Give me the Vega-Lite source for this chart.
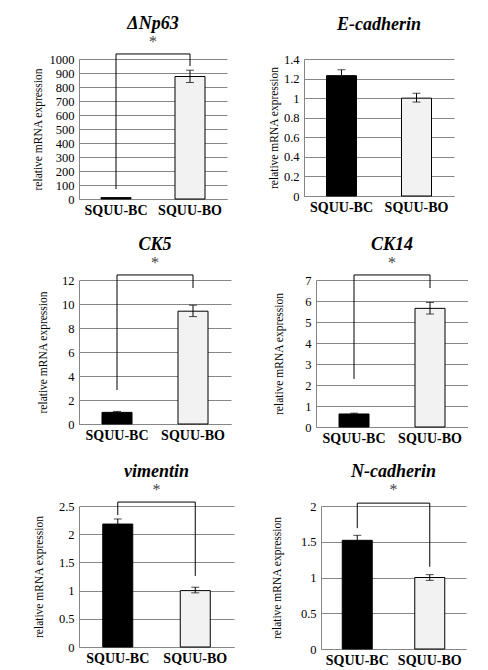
{
  "$schema": "https://vega.github.io/schema/vega-lite/v6.json",
  "padding": {"left": 31, "top": 14, "right": 0, "bottom": 0},
  "background": "white",
  "datasets": {
    "bars": [
      {"gene": "ΔNp63", "group": "SQUU-BC", "mean": 10, "lo": 6, "hi": 14},
      {"gene": "ΔNp63", "group": "SQUU-BO", "mean": 875, "lo": 832, "hi": 920},
      {"gene": "E-cadherin", "group": "SQUU-BC", "mean": 1.23, "lo": 1.17, "hi": 1.29},
      {"gene": "E-cadherin", "group": "SQUU-BO", "mean": 1.0, "lo": 0.96, "hi": 1.05},
      {"gene": "CK5", "group": "SQUU-BC", "mean": 0.97, "lo": 0.9, "hi": 1.05},
      {"gene": "CK5", "group": "SQUU-BO", "mean": 9.4, "lo": 8.95, "hi": 9.9},
      {"gene": "CK14", "group": "SQUU-BC", "mean": 0.62, "lo": 0.58, "hi": 0.66},
      {"gene": "CK14", "group": "SQUU-BO", "mean": 5.65, "lo": 5.38, "hi": 5.93},
      {"gene": "vimentin", "group": "SQUU-BC", "mean": 2.18, "lo": 2.1, "hi": 2.27},
      {"gene": "vimentin", "group": "SQUU-BO", "mean": 1.0, "lo": 0.96, "hi": 1.06},
      {"gene": "N-cadherin", "group": "SQUU-BC", "mean": 1.52, "lo": 1.45, "hi": 1.59},
      {"gene": "N-cadherin", "group": "SQUU-BO", "mean": 1.0, "lo": 0.96, "hi": 1.04}
    ],
    "brackets": [
      {"gene": "ΔNp63", "group": "SQUU-BC", "v": 71, "ord": 1},
      {"gene": "ΔNp63", "group": "SQUU-BC", "v": 1036, "ord": 2},
      {"gene": "ΔNp63", "group": "SQUU-BO", "v": 1036, "ord": 3},
      {"gene": "ΔNp63", "group": "SQUU-BO", "v": 950, "ord": 4},
      {"gene": "CK5", "group": "SQUU-BC", "v": 2.83, "ord": 1},
      {"gene": "CK5", "group": "SQUU-BC", "v": 12.42, "ord": 2},
      {"gene": "CK5", "group": "SQUU-BO", "v": 12.42, "ord": 3},
      {"gene": "CK5", "group": "SQUU-BO", "v": 11.33, "ord": 4},
      {"gene": "CK14", "group": "SQUU-BC", "v": 2.29, "ord": 1},
      {"gene": "CK14", "group": "SQUU-BC", "v": 7.24, "ord": 2},
      {"gene": "CK14", "group": "SQUU-BO", "v": 7.24, "ord": 3},
      {"gene": "CK14", "group": "SQUU-BO", "v": 6.62, "ord": 4},
      {"gene": "vimentin", "group": "SQUU-BC", "v": 2.34, "ord": 1},
      {"gene": "vimentin", "group": "SQUU-BC", "v": 2.57, "ord": 2},
      {"gene": "vimentin", "group": "SQUU-BO", "v": 2.57, "ord": 3},
      {"gene": "vimentin", "group": "SQUU-BO", "v": 1.26, "ord": 4},
      {"gene": "N-cadherin", "group": "SQUU-BC", "v": 1.69, "ord": 1},
      {"gene": "N-cadherin", "group": "SQUU-BC", "v": 2.04, "ord": 2},
      {"gene": "N-cadherin", "group": "SQUU-BO", "v": 2.04, "ord": 3},
      {"gene": "N-cadherin", "group": "SQUU-BO", "v": 1.15, "ord": 4}
    ]
  },
  "config": {
    "font": "Liberation Serif",
    "view": {"stroke": null},
    "axis": {"labelFont": "Liberation Serif", "titleFont": "Liberation Serif", "domainColor": "#868686", "gridColor": "#868686", "ticks": false, "labelColor": "black", "titleColor": "black"},
    "axisX": {"labelFontWeight": "bold", "labelFontSize": 14, "labelAngle": 0, "title": null, "grid": false, "labelPadding": 4},
    "axisY": {"labelFontSize": 12.5, "titleFontSize": 11.5, "titleFontWeight": "normal", "labelPadding": 5, "titlePadding": 6, "format": "~f", "labelFont": "Liberation Serif"},
    "title": {"font": "Liberation Serif", "fontSize": 18, "fontStyle": "italic", "fontWeight": "bold", "color": "black", "subtitleFont": "Liberation Serif", "subtitleFontSize": 16, "subtitleColor": "#444", "frame": "group", "anchor": "middle", "offset": 2, "subtitlePadding": 1},
    "bar": {"size": 30, "stroke": "black", "strokeWidth": 1},
    "rule": {"color": "black"},
    "line": {"color": "black", "strokeWidth": 1}
  },
  "vconcat": [
    {
      "hconcat": [
        {
          "width": 148, "height": 140,
          "title": {"text": "ΔNp63", "subtitle": "*"},
          "layer": [
            {"data": {"name": "bars"}, "transform": [{"filter": "datum.gene === 'ΔNp63'"}], "mark": "bar",
             "encoding": {"x": {"field": "group", "type": "nominal", "scale": {"paddingInner": 0, "paddingOuter": 0}},
                          "y": {"field": "mean", "type": "quantitative", "scale": {"domain": [0, 1000], "nice": false}, "axis": {"values": [0,100,200,300,400,500,600,700,800,900,1000], "title": "relative mRNA expression"}},
                          "color": {"condition": {"test": "datum.group === 'SQUU-BC'", "value": "black"}, "value": "#f2f2f2"}}},
            {"data": {"name": "bars"}, "transform": [{"filter": "datum.gene === 'ΔNp63' && datum.group === 'SQUU-BO'"}], "mark": {"type": "errorbar", "ticks": {"size": 8, "color": "black"}, "rule": {"color": "black"}},
             "encoding": {"x": {"field": "group", "type": "nominal"}, "y": {"field": "lo", "type": "quantitative", "axis": {"values": [0,100,200,300,400,500,600,700,800,900,1000], "title": "relative mRNA expression"}}, "y2": {"field": "hi"}}},
            {"data": {"name": "brackets"}, "transform": [{"filter": "datum.gene === 'ΔNp63'"}], "mark": "line",
             "encoding": {"x": {"field": "group", "type": "nominal"}, "y": {"field": "v", "type": "quantitative", "axis": {"values": [0,100,200,300,400,500,600,700,800,900,1000], "title": "relative mRNA expression"}}, "order": {"field": "ord"}}}
          ]
        },
        {
          "width": 150, "height": 137,
          "title": {"text": "E-cadherin", "subtitle": " "},
          "layer": [
            {"data": {"name": "bars"}, "transform": [{"filter": "datum.gene === 'E-cadherin'"}], "mark": "bar",
             "encoding": {"x": {"field": "group", "type": "nominal", "scale": {"paddingInner": 0, "paddingOuter": 0}},
                          "y": {"field": "mean", "type": "quantitative", "scale": {"domain": [0, 1.4], "nice": false}, "axis": {"values": [0,0.2,0.4,0.6,0.8,1,1.2,1.4], "title": "relative mRNA expression", "titlePadding": 4}},
                          "color": {"condition": {"test": "datum.group === 'SQUU-BC'", "value": "black"}, "value": "#f2f2f2"}}},
            {"data": {"name": "bars"}, "transform": [{"filter": "datum.gene === 'E-cadherin'"}], "mark": {"type": "errorbar", "ticks": {"size": 8, "color": "black"}, "rule": {"color": "black"}},
             "encoding": {"x": {"field": "group", "type": "nominal"}, "y": {"field": "lo", "type": "quantitative", "axis": {"values": [0,0.2,0.4,0.6,0.8,1,1.2,1.4], "title": "relative mRNA expression", "titlePadding": 4}}, "y2": {"field": "hi"}}}
          ]
        }
      ],
      "spacing": 41,
      "resolve": {"scale": {"x": "independent", "y": "independent"}}
    },
    {
      "hconcat": [
        {
          "width": 152, "height": 144,
          "title": {"text": "CK5", "subtitle": "*"},
          "layer": [
            {"data": {"name": "bars"}, "transform": [{"filter": "datum.gene === 'CK5'"}], "mark": "bar",
             "encoding": {"x": {"field": "group", "type": "nominal", "scale": {"paddingInner": 0, "paddingOuter": 0}},
                          "y": {"field": "mean", "type": "quantitative", "scale": {"domain": [0, 12], "nice": false}, "axis": {"values": [0,2,4,6,8,10,12], "title": "relative mRNA expression", "titlePadding": 13}},
                          "color": {"condition": {"test": "datum.group === 'SQUU-BC'", "value": "black"}, "value": "#f2f2f2"}}},
            {"data": {"name": "bars"}, "transform": [{"filter": "datum.gene === 'CK5'"}], "mark": {"type": "errorbar", "ticks": {"size": 8, "color": "black"}, "rule": {"color": "black"}},
             "encoding": {"x": {"field": "group", "type": "nominal"}, "y": {"field": "lo", "type": "quantitative", "axis": {"values": [0,2,4,6,8,10,12], "title": "relative mRNA expression", "titlePadding": 13}}, "y2": {"field": "hi"}}},
            {"data": {"name": "brackets"}, "transform": [{"filter": "datum.gene === 'CK5'"}], "mark": "line",
             "encoding": {"x": {"field": "group", "type": "nominal"}, "y": {"field": "v", "type": "quantitative", "axis": {"values": [0,2,4,6,8,10,12], "title": "relative mRNA expression", "titlePadding": 13}}, "order": {"field": "ord"}}}
          ]
        },
        {
          "width": 152, "height": 147,
          "title": {"text": "CK14", "subtitle": "*"},
          "layer": [
            {"data": {"name": "bars"}, "transform": [{"filter": "datum.gene === 'CK14'"}], "mark": "bar",
             "encoding": {"x": {"field": "group", "type": "nominal", "scale": {"paddingInner": 0, "paddingOuter": 0}},
                          "y": {"field": "mean", "type": "quantitative", "scale": {"domain": [0, 7], "nice": false}, "axis": {"values": [0,1,2,3,4,5,6,7], "title": "relative mRNA expression", "titlePadding": 20}},
                          "color": {"condition": {"test": "datum.group === 'SQUU-BC'", "value": "black"}, "value": "#f2f2f2"}}},
            {"data": {"name": "bars"}, "transform": [{"filter": "datum.gene === 'CK14'"}], "mark": {"type": "errorbar", "ticks": {"size": 8, "color": "black"}, "rule": {"color": "black"}},
             "encoding": {"x": {"field": "group", "type": "nominal"}, "y": {"field": "lo", "type": "quantitative", "axis": {"values": [0,1,2,3,4,5,6,7], "title": "relative mRNA expression", "titlePadding": 20}}, "y2": {"field": "hi"}}},
            {"data": {"name": "brackets"}, "transform": [{"filter": "datum.gene === 'CK14'"}], "mark": "line",
             "encoding": {"x": {"field": "group", "type": "nominal"}, "y": {"field": "v", "type": "quantitative", "axis": {"values": [0,1,2,3,4,5,6,7], "title": "relative mRNA expression", "titlePadding": 20}}, "order": {"field": "ord"}}}
          ]
        }
      ],
      "spacing": 42,
      "resolve": {"scale": {"x": "independent", "y": "independent"}}
    },
    {
      "hconcat": [
        {
          "width": 155, "height": 141,
          "title": {"text": "vimentin", "subtitle": "*"},
          "layer": [
            {"data": {"name": "bars"}, "transform": [{"filter": "datum.gene === 'vimentin'"}], "mark": "bar",
             "encoding": {"x": {"field": "group", "type": "nominal", "scale": {"paddingInner": 0, "paddingOuter": 0}},
                          "y": {"field": "mean", "type": "quantitative", "scale": {"domain": [0, 2.5], "nice": false}, "axis": {"values": [0,0.5,1,1.5,2,2.5], "title": "relative mRNA expression", "titlePadding": 14}},
                          "color": {"condition": {"test": "datum.group === 'SQUU-BC'", "value": "black"}, "value": "#f2f2f2"}}},
            {"data": {"name": "bars"}, "transform": [{"filter": "datum.gene === 'vimentin'"}], "mark": {"type": "errorbar", "ticks": {"size": 8, "color": "black"}, "rule": {"color": "black"}},
             "encoding": {"x": {"field": "group", "type": "nominal"}, "y": {"field": "lo", "type": "quantitative", "axis": {"values": [0,0.5,1,1.5,2,2.5], "title": "relative mRNA expression", "titlePadding": 14}}, "y2": {"field": "hi"}}},
            {"data": {"name": "brackets"}, "transform": [{"filter": "datum.gene === 'vimentin'"}], "mark": "line",
             "encoding": {"x": {"field": "group", "type": "nominal"}, "y": {"field": "v", "type": "quantitative", "axis": {"values": [0,0.5,1,1.5,2,2.5], "title": "relative mRNA expression", "titlePadding": 14}}, "order": {"field": "ord"}}}
          ]
        },
        {
          "width": 145, "height": 143,
          "title": {"text": "N-cadherin", "subtitle": "*"},
          "layer": [
            {"data": {"name": "bars"}, "transform": [{"filter": "datum.gene === 'N-cadherin'"}], "mark": "bar",
             "encoding": {"x": {"field": "group", "type": "nominal", "scale": {"paddingInner": 0, "paddingOuter": 0}},
                          "y": {"field": "mean", "type": "quantitative", "scale": {"domain": [0, 2], "nice": false}, "axis": {"values": [0,0.5,1,1.5,2], "title": "relative mRNA expression", "titlePadding": 18}},
                          "color": {"condition": {"test": "datum.group === 'SQUU-BC'", "value": "black"}, "value": "#f2f2f2"}}},
            {"data": {"name": "bars"}, "transform": [{"filter": "datum.gene === 'N-cadherin'"}], "mark": {"type": "errorbar", "ticks": {"size": 8, "color": "black"}, "rule": {"color": "black"}},
             "encoding": {"x": {"field": "group", "type": "nominal"}, "y": {"field": "lo", "type": "quantitative", "axis": {"values": [0,0.5,1,1.5,2], "title": "relative mRNA expression", "titlePadding": 18}}, "y2": {"field": "hi"}}},
            {"data": {"name": "brackets"}, "transform": [{"filter": "datum.gene === 'N-cadherin'"}], "mark": "line",
             "encoding": {"x": {"field": "group", "type": "nominal"}, "y": {"field": "v", "type": "quantitative", "axis": {"values": [0,0.5,1,1.5,2], "title": "relative mRNA expression", "titlePadding": 18}}, "order": {"field": "ord"}}}
          ]
        }
      ],
      "spacing": 37,
      "resolve": {"scale": {"x": "independent", "y": "independent"}}
    }
  ],
  "spacing": 18
}
